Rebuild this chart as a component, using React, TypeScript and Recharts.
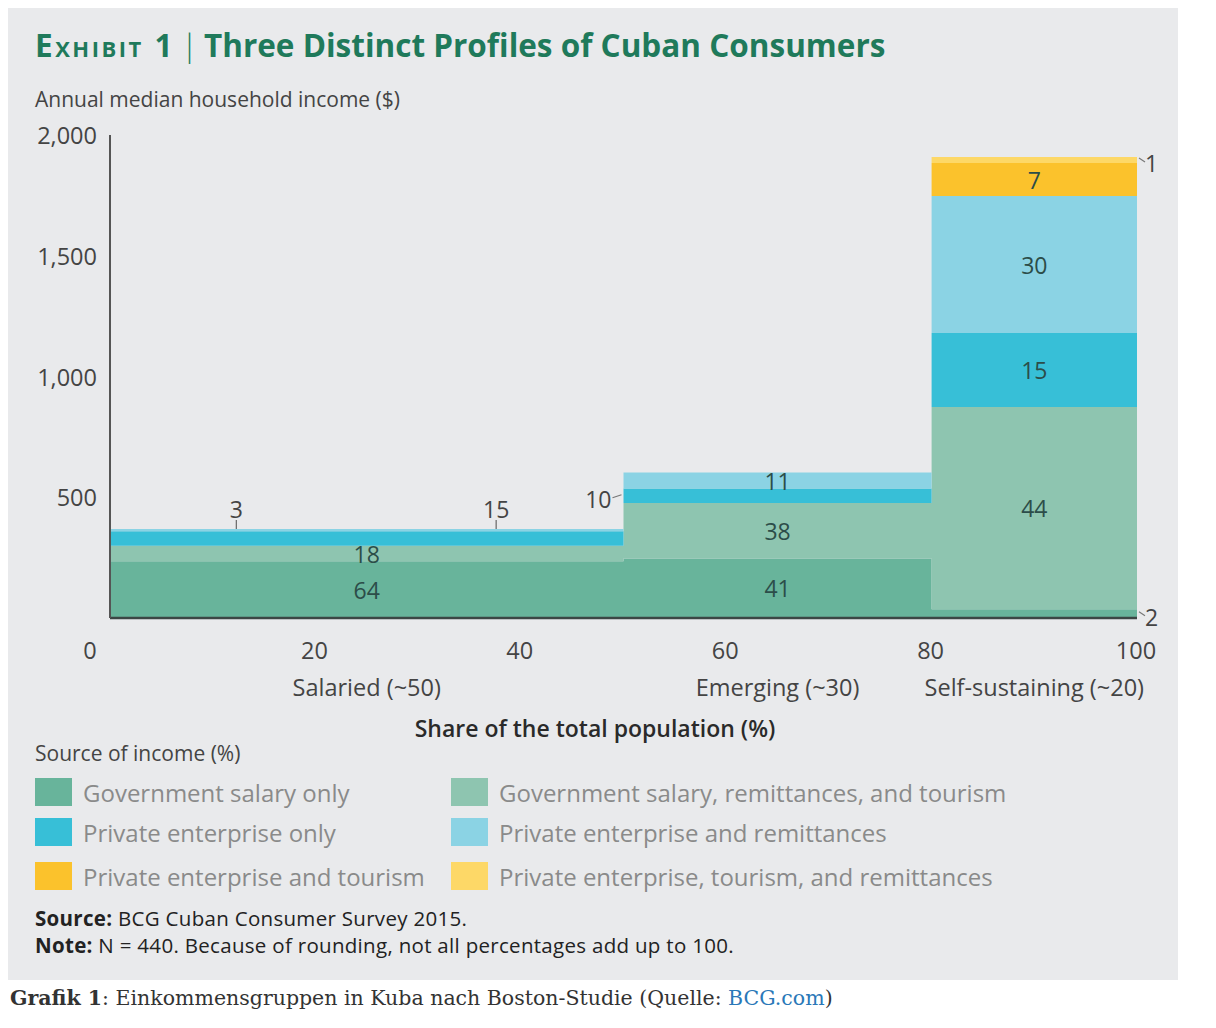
import React from 'react';
import { ComposedChart, Area, XAxis, YAxis, Scatter } from 'recharts';

const FONT = '"Open Sans", "Noto Sans", sans-serif';

// Population groups (share of total population, %)
const groupNames = ['Salaried (~50)', 'Emerging (~30)', 'Self-sustaining (~20)'];
const groupStart = [0, 50, 80];
const groupEnd = [50, 80, 100];
const groupLabelX = [25, 65, 90];

// Sources of income
const sourceNames = [
  'Government salary only',
  'Government salary, remittances, and tourism',
  'Private enterprise only',
  'Private enterprise and remittances',
  'Private enterprise and tourism',
  'Private enterprise, tourism, and remittances',
];
const sourceColors = ['#68b49b', '#8ec5b0', '#37bfd7', '#8bd3e4', '#fbc22c', '#fdd867'];

// Income ($) contributed by each source, per group (Salaried, Emerging, Self-sustaining)
const incomeGovOnly = [235, 246, 36];
const incomeGovRemTour = [64, 230, 838];
const incomePrivOnly = [60, 60, 306];
const incomePrivRem = [10, 66, 567];
const incomePrivTour = [0, 0, 137];
const incomePrivTourRem = [0, 0, 25];

// Share of income (%) labels
const pctGovOnly = [64, 41, 2];
const pctGovRemTour = [18, 38, 44];
const pctPrivOnly = [15, 10, 15];
const pctPrivRem = [3, 11, 30];
const pctPrivTour = [0, 0, 7];
const pctPrivTourRem = [0, 0, 1];

const xTicks = [0, 20, 40, 60, 80, 100];
const yTicks = [500, 1000, 1500, 2000];

// Labels placed outside their segment: [group, source, placement, x share]
const outsideLabels: [number, number, string, number][] = [
  [0, 3, 'above', 12.3],
  [0, 2, 'above', 37.6],
  [1, 2, 'left', 50],
  [2, 5, 'right', 100],
  [2, 0, 'right', 100],
];

const series = [incomeGovOnly, incomeGovRemTour, incomePrivOnly, incomePrivRem, incomePrivTour, incomePrivTourRem];
const pcts = [pctGovOnly, pctGovRemTour, pctPrivOnly, pctPrivRem, pctPrivTour, pctPrivTourRem];

function groupTotal(g: number) {
  return series.reduce((a, s) => a + s[g], 0);
}

const rows = [...groupStart.map((x, g) => ({ x, g })), { x: groupEnd[2], g: 2 }].map(({ x, g }) => {
  const r: any = { x };
  series.forEach((s, i) => {
    r['s' + i] = s[g];
  });
  return r;
});

const labelPoints: any[] = [];
groupNames.forEach((_, g) => {
  let cum = 0;
  series.forEach((s, i) => {
    const v = s[g];
    const mid = cum + v / 2;
    const top = groupTotal(g);
    cum += v;
    const p = pcts[i][g];
    if (!p) return;
    const o = outsideLabels.find((l) => l[0] === g && l[1] === i);
    if (o) {
      labelPoints.push({ x: o[3], y: o[2] === 'above' ? top : mid, text: String(p), kind: o[2] });
    } else {
      labelPoints.push({ x: groupLabelX[g], y: mid, text: String(p), kind: 'in' });
    }
  });
});

const LabelShape = (props: any) => {
  const { cx, cy, payload } = props;
  const common = { fontFamily: FONT, fontSize: 23, dominantBaseline: 'central' as any };
  if (payload.kind === 'in') {
    return (
      <text x={cx} y={cy} textAnchor="middle" fill="#2c4d49" {...common}>
        {payload.text}
      </text>
    );
  }
  if (payload.kind === 'above') {
    return (
      <g>
        <line x1={cx} y1={cy} x2={cx} y2={cy - 9} stroke="#666" strokeWidth={1.2} />
        <text x={cx} y={cy - 20} textAnchor="middle" fill="#444" {...common}>
          {payload.text}
        </text>
      </g>
    );
  }
  if (payload.kind === 'left') {
    return (
      <g>
        <line x1={cx - 2} y1={cy - 1} x2={cx - 11} y2={cy + 2} stroke="#777" strokeWidth={1.2} />
        <text x={cx - 12} y={cy + 3} textAnchor="end" fill="#444" {...common}>
          {payload.text}
        </text>
      </g>
    );
  }
  return (
    <g>
      <line x1={cx + 2} y1={cy - 2} x2={cx + 8} y2={cy + 2} stroke="#777" strokeWidth={1.2} />
      <text x={cx + 8} y={cy + 3} textAnchor="start" fill="#444" {...common}>
        {payload.text}
      </text>
    </g>
  );
};

const XTick = (props: any) => {
  const { x, y, payload } = props;
  const v = payload.value;
  const gi = groupLabelX.indexOf(v);
  if (gi >= 0) {
    return (
      <text x={x} y={y + 69} textAnchor="middle" dominantBaseline="central" fill="#444" fontFamily={FONT} fontSize={23.5}>
        {groupNames[gi]}
      </text>
    );
  }
  return (
    <text x={v === 0 ? x - 20 : x - 1} y={y + 32} textAnchor="middle" dominantBaseline="central" fill="#444" fontFamily={FONT} fontSize={23.5}>
      {v}
    </text>
  );
};

const YTick = (props: any) => {
  const { x, y, payload } = props;
  return (
    <text x={x - 13} y={y} textAnchor="end" dominantBaseline="central" fill="#444" fontFamily={FONT} fontSize={23.5}>
      {Number(payload.value).toLocaleString('en-US')}
    </text>
  );
};

const legendOrder = [0, 2, 4, 1, 3, 5];

export default function App() {
  return (
    <div>
      <div style={{ position: 'relative', width: 1170, height: 972, background: '#e9eaec', fontFamily: FONT }}>
        <div style={{ position: 'absolute', left: 27, top: 18, fontSize: 31.5, lineHeight: '38px', fontWeight: 700, color: '#1f7a5b', whiteSpace: 'nowrap' }}>
          <span style={{ fontVariant: 'small-caps', letterSpacing: 2.5 }}>Exhibit 1</span>
          <span style={{ fontWeight: 300, color: '#1f7a5b', margin: '0 6px' }}>|</span>
          Three Distinct Profiles of Cuban Consumers
        </div>
        <div style={{ position: 'absolute', left: 27, top: 78, fontSize: 21, lineHeight: '26px', color: '#444', whiteSpace: 'nowrap' }}>
          Annual median household income ($)
        </div>
        <div style={{ position: 'absolute', left: 0, top: 0 }}>
          <ComposedChart width={1170} height={700} data={rows} margin={{ top: 127, right: 41, left: 0, bottom: 0 }}>
            <XAxis
              dataKey="x"
              type="number"
              domain={[0, 100]}
              ticks={[...xTicks, ...groupLabelX].sort((a, b) => a - b)}
              interval={0}
              tick={<XTick />}
              tickLine={false}
              tickSize={0}
              tickMargin={0}
              height={90}
              axisLine={{ stroke: '#3b4644', strokeWidth: 2.5 }}
            />
            <YAxis
              type="number"
              domain={[0, 2000]}
              ticks={yTicks}
              interval={0}
              tick={<YTick />}
              tickLine={false}
              tickSize={0}
              tickMargin={0}
              width={102}
              axisLine={{ stroke: '#555', strokeWidth: 2 }}
            />
            {series.map((_, i) => (
              <Area
                key={i}
                dataKey={'s' + i}
                stackId="inc"
                type="stepAfter"
                fill={sourceColors[i]}
                fillOpacity={1}
                stroke="none"
                isAnimationActive={false}
                activeDot={false}
                dot={false}
              />
            ))}
            <Scatter data={labelPoints} dataKey="y" shape={<LabelShape />} isAnimationActive={false} />
          </ComposedChart>
        </div>
        <div style={{ position: 'absolute', left: 0, width: 1174, top: 705, textAlign: 'center', fontSize: 23, lineHeight: '30px', fontWeight: 600, color: '#2a2a2a' }}>
          Share of the total population (%)
        </div>
        <div style={{ position: 'absolute', left: 27, top: 732, fontSize: 21, lineHeight: '26px', color: '#444' }}>
          Source of income (%)
        </div>
        {legendOrder.map((si, k) => {
          const col = k < 3 ? 0 : 1;
          const row = k % 3;
          const cy = [784, 824, 868][row];
          const left = col === 0 ? 27 : 443;
          return (
            <div key={si} style={{ position: 'absolute', left, top: cy - 15, height: 30, display: 'flex', alignItems: 'center', whiteSpace: 'nowrap' }}>
              <div style={{ width: 37, height: 28, background: sourceColors[si] }} />
              <div style={{ marginLeft: 11, fontSize: 24, color: '#8a8a8a' }}>{sourceNames[si]}</div>
            </div>
          );
        })}
        <div style={{ position: 'absolute', left: 27, top: 897, fontSize: 20.5, lineHeight: '26px', color: '#222', whiteSpace: 'nowrap', letterSpacing: 0.3 }}>
          <b>Source:</b> BCG Cuban Consumer Survey 2015.
        </div>
        <div style={{ position: 'absolute', left: 27, top: 924, fontSize: 20.5, lineHeight: '26px', color: '#222', whiteSpace: 'nowrap', letterSpacing: 0.3 }}>
          <b>Note:</b> N = 440. Because of rounding, not all percentages add up to 100.
        </div>
      </div>
      <div style={{ marginTop: 5, paddingLeft: 2, fontFamily: '"DejaVu Serif", serif', fontSize: 20.5, lineHeight: '26px', color: '#333' }}>
        <b>Grafik 1</b>: Einkommensgruppen in Kuba nach Boston-Studie (Quelle: <span style={{ color: '#2a78b8' }}>BCG.com</span>)
      </div>
    </div>
  );
}
